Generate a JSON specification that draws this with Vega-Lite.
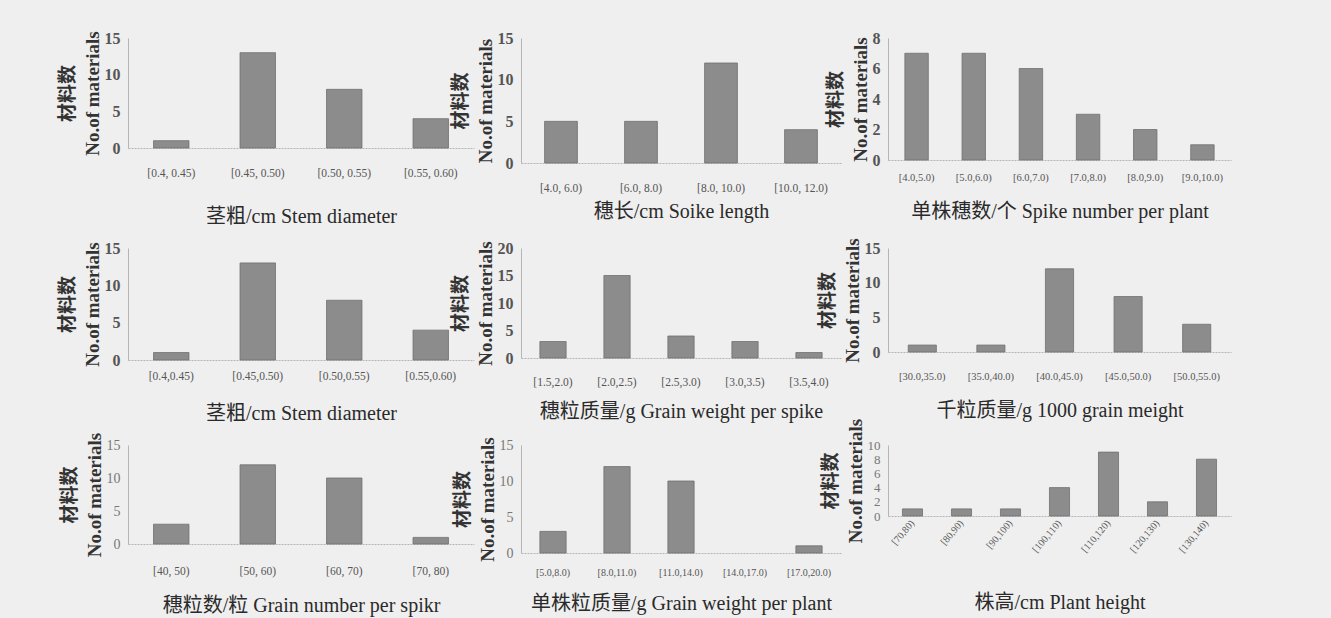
{
  "$schema": "https://vega.github.io/schema/vega-lite/v6.json",
  "background": "#efefef",
  "padding": {"left": 58, "top": 30, "right": 100, "bottom": 5},
  "datasets": {
    "p1": [{"bin": "[0.4, 0.45)", "count": 1}, {"bin": "[0.45, 0.50)", "count": 13}, {"bin": "[0.50, 0.55)", "count": 8}, {"bin": "[0.55, 0.60)", "count": 4}],
    "p2": [{"bin": "[4.0, 6.0)", "count": 5}, {"bin": "[6.0, 8.0)", "count": 5}, {"bin": "[8.0, 10.0)", "count": 12}, {"bin": "[10.0, 12.0)", "count": 4}],
    "p3": [{"bin": "[4.0,5.0)", "count": 7}, {"bin": "[5.0,6.0)", "count": 7}, {"bin": "[6.0,7.0)", "count": 6}, {"bin": "[7.0,8.0)", "count": 3}, {"bin": "[8.0,9.0)", "count": 2}, {"bin": "[9.0,10.0)", "count": 1}],
    "p4": [{"bin": "[0.4,0.45)", "count": 1}, {"bin": "[0.45,0.50)", "count": 13}, {"bin": "[0.50,0.55)", "count": 8}, {"bin": "[0.55,0.60)", "count": 4}],
    "p5": [{"bin": "[1.5,2.0)", "count": 3}, {"bin": "[2.0,2.5)", "count": 15}, {"bin": "[2.5,3.0)", "count": 4}, {"bin": "[3.0,3.5)", "count": 3}, {"bin": "[3.5,4.0)", "count": 1}],
    "p6": [{"bin": "[30.0,35.0)", "count": 1}, {"bin": "[35.0,40.0)", "count": 1}, {"bin": "[40.0,45.0)", "count": 12}, {"bin": "[45.0,50.0)", "count": 8}, {"bin": "[50.0,55.0)", "count": 4}],
    "p7": [{"bin": "[40, 50)", "count": 3}, {"bin": "[50, 60)", "count": 12}, {"bin": "[60, 70)", "count": 10}, {"bin": "[70, 80)", "count": 1}],
    "p8": [{"bin": "[5.0,8.0)", "count": 3}, {"bin": "[8.0,11.0)", "count": 12}, {"bin": "[11.0,14.0)", "count": 10}, {"bin": "[14.0,17.0)", "count": 0}, {"bin": "[17.0,20.0)", "count": 1}],
    "p9": [{"bin": "[70,80)", "count": 1}, {"bin": "[80,90)", "count": 1}, {"bin": "[90,100)", "count": 1}, {"bin": "[100,110)", "count": 4}, {"bin": "[110,120)", "count": 9}, {"bin": "[120,130)", "count": 2}, {"bin": "[130,140)", "count": 8}]
  },
  "bounds": "flush",
  "columns": 3,
  "spacing": {"row": 85, "column": 47},
  "concat": [
    {
      "width": 346, "height": 110,
      "data": {"name": "p1"},
      "mark": {"type": "bar", "color": "#8c8c8c", "stroke": "#707070", "strokeWidth": 0.8},
      "encoding": {
        "x": {"field": "bin", "type": "nominal", "sort": null, "axis": {"title": "茎粗/cm Stem diameter", "labelPadding": 19, "titleY": 68}},
        "y": {"field": "count", "type": "quantitative", "scale": {"domain": [0, 15]}, "axis": {"values": [0, 5, 10, 15], "title": ["材料数", "No.of materials"]}}
      }
    },
    {
      "width": 320, "height": 125,
      "data": {"name": "p2"},
      "mark": {"type": "bar", "color": "#8c8c8c", "stroke": "#707070", "strokeWidth": 0.8},
      "encoding": {
        "x": {"field": "bin", "type": "nominal", "sort": null, "axis": {"title": "穗长/cm Soike length", "labelPadding": 19, "titleY": 48}},
        "y": {"field": "count", "type": "quantitative", "scale": {"domain": [0, 15]}, "axis": {"values": [0, 5, 10, 15], "title": ["材料数", "No.of materials"]}}
      }
    },
    {
      "width": 343, "height": 122,
      "data": {"name": "p3"},
      "mark": {"type": "bar", "color": "#8c8c8c", "stroke": "#707070", "strokeWidth": 0.8},
      "encoding": {
        "x": {"field": "bin", "type": "nominal", "sort": null, "axis": {"title": "单株穗数/个  Spike number per plant", "labelPadding": 12, "titleY": 51, "labelFontSize": 10.5}},
        "y": {"field": "count", "type": "quantitative", "scale": {"domain": [0, 8]}, "axis": {"values": [0, 2, 4, 6, 8], "title": ["材料数", "No.of materials"]}}
      }
    },
    {
      "width": 346, "height": 112,
      "data": {"name": "p4"},
      "mark": {"type": "bar", "color": "#8c8c8c", "stroke": "#707070", "strokeWidth": 0.8},
      "encoding": {
        "x": {"field": "bin", "type": "nominal", "sort": null, "axis": {"title": "茎粗/cm Stem diameter", "labelPadding": 10, "titleY": 53}},
        "y": {"field": "count", "type": "quantitative", "scale": {"domain": [0, 15]}, "axis": {"values": [0, 5, 10, 15], "title": ["材料数", "No.of materials"]}}
      }
    },
    {
      "width": 320, "height": 110,
      "data": {"name": "p5"},
      "mark": {"type": "bar", "color": "#8c8c8c", "stroke": "#707070", "strokeWidth": 0.8},
      "encoding": {
        "x": {"field": "bin", "type": "nominal", "sort": null, "axis": {"title": "穗粒质量/g Grain weight per spike", "labelPadding": 18, "titleY": 53}},
        "y": {"field": "count", "type": "quantitative", "scale": {"domain": [0, 20]}, "axis": {"values": [0, 5, 10, 15, 20], "title": ["材料数", "No.of materials"]}}
      }
    },
    {
      "width": 343, "height": 104,
      "data": {"name": "p6"},
      "mark": {"type": "bar", "color": "#8c8c8c", "stroke": "#707070", "strokeWidth": 0.8},
      "encoding": {
        "x": {"field": "bin", "type": "nominal", "sort": null, "axis": {"title": "千粒质量/g 1000 grain meight", "labelPadding": 19, "titleY": 58, "labelFontSize": 10.5}},
        "y": {"field": "count", "type": "quantitative", "scale": {"domain": [0, 15]}, "axis": {"values": [0, 5, 10, 15], "title": ["材料数", "No.of materials"]}}
      }
    },
    {
      "width": 346, "height": 99,
      "data": {"name": "p7"},
      "mark": {"type": "bar", "color": "#8c8c8c", "stroke": "#707070", "strokeWidth": 0.8},
      "encoding": {
        "x": {"field": "bin", "type": "nominal", "sort": null, "axis": {"title": "穗粒数/粒  Grain number per spikr", "labelPadding": 21, "titleY": 61}},
        "y": {"field": "count", "type": "quantitative", "scale": {"domain": [0, 15]}, "axis": {"values": [0, 5, 10, 15], "labelFontWeight": "normal", "labelColor": "#777", "labelFontSize": 14, "title": ["材料数", "No.of materials"]}}
      }
    },
    {
      "width": 320, "height": 108,
      "data": {"name": "p8"},
      "mark": {"type": "bar", "color": "#8c8c8c", "stroke": "#707070", "strokeWidth": 0.8},
      "encoding": {
        "x": {"field": "bin", "type": "nominal", "sort": null, "axis": {"title": "单株粒质量/g Grain weight per plant", "labelPadding": 14, "titleY": 50, "labelFontSize": 10}},
        "y": {"field": "count", "type": "quantitative", "scale": {"domain": [0, 15]}, "axis": {"values": [0, 5, 10, 15], "labelFontWeight": "normal", "labelColor": "#777", "labelFontSize": 14, "title": ["材料数", "No.of materials"]}},
        "strokeOpacity": {"condition": {"test": "datum.count > 0", "value": 1}, "value": 0}
      }
    },
    {
      "width": 343, "height": 71,
      "data": {"name": "p9"},
      "mark": {"type": "bar", "color": "#8c8c8c", "stroke": "#707070", "strokeWidth": 0.8},
      "encoding": {
        "x": {"field": "bin", "type": "nominal", "sort": null, "axis": {"title": "株高/cm Plant height", "labelAngle": -50, "labelPadding": 5, "titleY": 86, "labelFontSize": 10}},
        "y": {"field": "count", "type": "quantitative", "scale": {"domain": [0, 10]}, "axis": {"values": [0, 2, 4, 6, 8, 10], "labelOverlap": false, "labelFontWeight": "normal", "labelColor": "#777", "labelFontSize": 13, "title": ["材料数", "No.of materials"]}}
      }
    }
  ],
  "config": {
    "view": {"stroke": null},
    "font": "Liberation Serif",
    "scale": {"bandPaddingInner": 0.59, "bandPaddingOuter": 0.295},
    "axis": {
      "grid": false,
      "ticks": false,
      "domainColor": "#b5b5b5",
      "labelFont": "Liberation Serif",
      "titleFont": "Liberation Serif, Noto Sans CJK SC",
      "labelColor": "#555555",
      "titleColor": "#333333"
    },
    "axisY": {
      "labelFontSize": 16,
      "labelFontWeight": "bold",
      "labelPadding": 8,
      "titleFontSize": 19,
      "titleFontWeight": "bold",
      "titlePadding": 2,
      "titleLineHeight": 25
    },
    "axisX": {
      "labelFontSize": 11.5,
      "labelAngle": 0,
      "titleFontSize": 20,
      "titleFontWeight": "normal",
      "titleBaseline": "middle",
      "titleColor": "#2a2a2a",
      "domainDash": [2, 1]
    }
  }
}
